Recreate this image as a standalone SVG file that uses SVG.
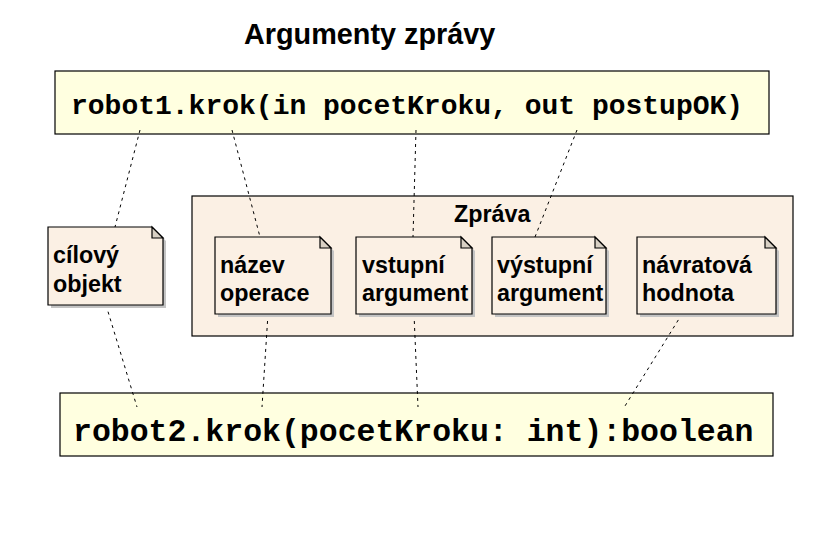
<svg xmlns="http://www.w3.org/2000/svg" width="814" height="545" viewBox="0 0 814 545">
<defs>
<style>
.box{fill:#ffffe0;stroke:#000;stroke-width:1.2}
.cont{fill:#fbf0e4;stroke:#000;stroke-width:1.2}
.note{fill:#fbf0e4;stroke:#000;stroke-width:1.2}
.fold{fill:#d8d0c4;stroke:#000;stroke-width:1.2;stroke-linejoin:miter}
.shadow{fill:#c4c4c4}
.mono{font-family:"Liberation Mono","Courier New",monospace;font-weight:bold;fill:#000}
.sans{font-family:"Liberation Sans",Arial,sans-serif;font-weight:bold;fill:#000}
.nt{font-size:23.3px}
.dot{stroke:#000;stroke-width:1;stroke-dasharray:3,4;fill:none}
</style>
</defs>
<rect width="814" height="545" fill="#fff"/>
<text id="title" class="sans" x="244" y="44" font-size="28.8">Argumenty zprávy</text>
<g id="zprava">
<rect class="cont" x="192" y="196" width="601" height="140"/>
<text class="sans nt" x="454" y="222">Zpráva</text>
</g>
<g id="top">
<rect class="box" x="55" y="71" width="714" height="63"/>
<text class="mono" x="71" y="114" font-size="28">robot1.krok(in pocetKroku, out postupOK)</text>
</g>
<g id="bottom">
<rect class="box" x="60" y="393" width="713" height="63"/>
<text class="mono" x="73" y="441" font-size="31.5">robot2.krok(pocetKroku: int):boolean</text>
</g>
<g id="connectors">
<line class="dot" x1="140" y1="130" x2="115" y2="227"/>
<line class="dot" x1="232" y1="130" x2="260" y2="237"/>
<line class="dot" x1="416" y1="130" x2="413" y2="237"/>
<line class="dot" x1="577" y1="130" x2="535" y2="237"/>
<line class="dot" x1="106" y1="305" x2="137" y2="407"/>
<line class="dot" x1="268" y1="314" x2="262" y2="407"/>
<line class="dot" x1="414" y1="314" x2="418" y2="407"/>
<line class="dot" x1="682" y1="314" x2="625" y2="406"/>
</g>
<g id="n-cilovy">
<path class="shadow" d="M51 230 H155 L166 241 V308 H51 Z"/>
<path class="note" d="M48 227 H152 L163 238 V305 H48 Z"/>
<path class="fold" d="M152 227 V238 H163 Z"/>
<text class="sans nt" x="53" y="263">cílový</text>
<text class="sans nt" x="53" y="292">objekt</text>
</g>
<g id="n-nazev">
<path class="shadow" d="M218 240 H323 L334 251 V317 H218 Z"/>
<path class="note" d="M215 237 H320 L331 248 V314 H215 Z"/>
<path class="fold" d="M320 237 V248 H331 Z"/>
<text class="sans nt" x="220" y="273">název</text>
<text class="sans nt" x="220" y="301">operace</text>
</g>
<g id="n-vstupni">
<path class="shadow" d="M359 240 H464 L475 251 V317 H359 Z"/>
<path class="note" d="M356 237 H461 L472 248 V314 H356 Z"/>
<path class="fold" d="M461 237 V248 H472 Z"/>
<text class="sans nt" x="362" y="273">vstupní</text>
<text class="sans nt" x="362" y="301">argument</text>
</g>
<g id="n-vystupni">
<path class="shadow" d="M495 240 H598 L609 251 V317 H495 Z"/>
<path class="note" d="M492 237 H595 L606 248 V314 H492 Z"/>
<path class="fold" d="M595 237 V248 H606 Z"/>
<text class="sans nt" x="497" y="273">výstupní</text>
<text class="sans nt" x="497" y="301">argument</text>
</g>
<g id="n-navratova">
<path class="shadow" d="M640 240 H768 L779 251 V317 H640 Z"/>
<path class="note" d="M637 237 H765 L776 248 V314 H637 Z"/>
<path class="fold" d="M765 237 V248 H776 Z"/>
<text class="sans nt" x="642" y="273">návratová</text>
<text class="sans nt" x="642" y="301">hodnota</text>
</g>
</svg>
